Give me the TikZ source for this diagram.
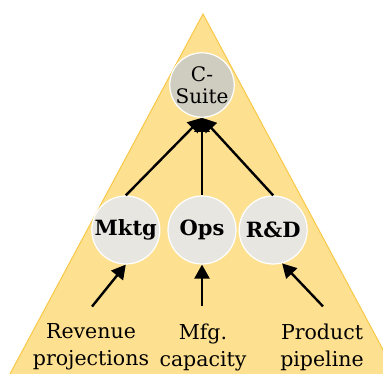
\documentclass[tikz,border=0pt]{standalone}
\usepackage{fontspec}
\setmainfont{DejaVu Serif}
\usetikzlibrary{arrows.meta, positioning}
\definecolor{pyramidfill}{RGB}{254,224,145}
\definecolor{pyramidedge}{RGB}{248,200,70}
\definecolor{csgray}{RGB}{207,204,192}
\definecolor{unitgray}{RGB}{231,230,225}

\begin{document}
\begin{tikzpicture}[
  x=1pt, y=-1pt,
  unit/.style = {
    circle, draw=white, line width=1.2pt, fill=unitgray,
    minimum size=68pt, inner sep=0pt,
    align=center, font=\fontsize{21}{22}\selectfont\bfseries
  },
  csbox/.style = {
    unit, fill=csgray, minimum size=62pt,
    font=\fontsize{20}{22}\selectfont
  },
  lbl/.style = { align=center, inner sep=0pt, font=\fontsize{20.5}{27}\selectfont },
  arr/.style = { -{Triangle[length=14pt,width=15pt]}, line width=2.4pt, draw=black }
]

\useasboundingbox (0,0) rectangle (383,374);
\clip (0,0) rectangle (383,374);

% pyramid
\filldraw[fill=pyramidfill, draw=pyramidedge, line width=1pt]
  (203,14) -- (410,400) -- (-4,400) -- cycle;

\node[csbox] (cs) at (202,85) {C-\\Suite};
\node[unit] (ops) at (202,230) {Ops};
\node[unit, left=7pt of ops]  (mktg) {Mktg};
\node[unit, right=2pt of ops] (rd)   {R\&D};

\node[lbl] (rev)  at (91,347)  {Revenue\\projections};
\node[lbl] (mfg)  at (203,347) {Mfg.\\capacity};
\node[lbl] (prod) at (322,347) {Product\\pipeline};

\draw[arr] (mktg.north) -- (cs.south);
\draw[arr] (ops.north)  -- (cs.south);
\draw[arr] (rd.north)   -- (cs.south);

\draw[arr] ([xshift=1pt,yshift=17pt]rev.north)  -- (mktg.south);
\draw[arr] ([xshift=-1pt,yshift=17pt]mfg.north) -- (ops.south);
\draw[arr] ([xshift=1pt,yshift=17pt]prod.north) -- (rd.285);

\end{tikzpicture}
\end{document}
